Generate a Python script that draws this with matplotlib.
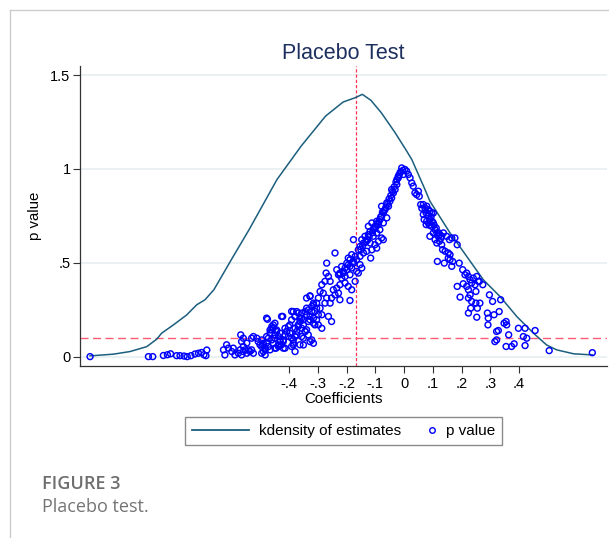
import matplotlib.pyplot as plt
from matplotlib.lines import Line2D
from matplotlib.legend_handler import HandlerLine2D

# --------------------------
# data
# --------------------------

# kernel density of the placebo estimates (sampled along the curve)
kd_coef = [-1.092, -1.011, -0.953, -0.895, -0.860, -0.843, -0.802, -0.756, -0.721,
           -0.692, -0.661, -0.600, -0.539, -0.442, -0.358, -0.273, -0.212, -0.170,
           -0.145, -0.115, -0.079, -0.032, 0.006, 0.027, 0.073, 0.090, 0.160, 0.218,
           0.276, 0.334, 0.392, 0.450, 0.496, 0.531, 0.590, 0.655]
kd_dens = [0.004, 0.013, 0.027, 0.053, 0.093, 0.125, 0.169, 0.222, 0.276,
           0.303, 0.357, 0.518, 0.676, 0.943, 1.121, 1.281, 1.356, 1.379,
           1.397, 1.365, 1.299, 1.195, 1.103, 1.050, 0.890, 0.828, 0.659, 0.534,
           0.409, 0.320, 0.214, 0.125, 0.062, 0.036, 0.015, 0.009]

# p values of the placebo coefficients
# left tail
pv_coef = [-1.092, -0.889, -0.874, -0.837, -0.823, -0.812, -0.791, -0.779, -0.765,
           -0.754, -0.741, -0.727, -0.715, -0.704, -0.696, -0.686, -0.689]
pv_val = [0.000, 0.000, 0.000, 0.006, 0.010, 0.015, 0.005, 0.005, 0.003,
          0.000, 0.005, 0.014, 0.018, 0.022, 0.010, 0.035, 0.005]

# lower left cluster
pv_coef += [-0.623, -0.628, -0.611, -0.617, -0.599, -0.588, -0.594, -0.576, -0.570,
            -0.565, -0.559, -0.553, -0.547, -0.541, -0.536, -0.530, -0.524, -0.559,
            -0.565, -0.568, -0.559, -0.547, -0.530, -0.524, -0.512, -0.507, -0.495,
            -0.492, -0.489, -0.483, -0.478, -0.472, -0.466, -0.460, -0.455, -0.449,
            -0.443, -0.437, -0.431, -0.426, -0.420, -0.414, -0.408, -0.402, -0.397,
            -0.391, -0.385, -0.379, -0.373, -0.368, -0.362, -0.356, -0.350, -0.344,
            -0.339, -0.333, -0.327, -0.321, -0.315, -0.310, -0.304, -0.298, -0.478,
            -0.426, -0.391, -0.379, -0.368, -0.356, -0.339, -0.339, -0.327, -0.315,
            -0.304, -0.460, -0.449, -0.437, -0.414, -0.391, -0.362, -0.350, -0.327,
            -0.501, -0.466, -0.445, -0.379]
pv_val += [0.009, 0.036, 0.045, 0.063, 0.027, 0.009, 0.045, 0.018, 0.036,
           0.009, 0.027, 0.036, 0.018, 0.036, 0.027, 0.036, 0.018, 0.054,
           0.080, 0.116, 0.098, 0.072, 0.098, 0.107, 0.098, 0.080, 0.089,
           0.063, 0.027, 0.045, 0.072, 0.098, 0.125, 0.143, 0.152, 0.178,
           0.134, 0.107, 0.080, 0.063, 0.089, 0.116, 0.134, 0.160, 0.125,
           0.098, 0.072, 0.107, 0.134, 0.160, 0.187, 0.205, 0.169, 0.134,
           0.143, 0.187, 0.214, 0.241, 0.205, 0.169, 0.196, 0.223, 0.205,
           0.214, 0.241, 0.214, 0.232, 0.232, 0.258, 0.312, 0.321, 0.285,
           0.258, 0.160, 0.116, 0.054, 0.045, 0.054, 0.063, 0.098, 0.080,
           0.063, 0.036, 0.045, 0.027]
pv_coef += [-0.475, -0.422, -0.455, -0.466, -0.443, -0.431, -0.414, -0.408, -0.402,
            -0.385, -0.373, -0.356, -0.350, -0.420, -0.431, -0.449, -0.460, -0.478,
            -0.489, -0.495, -0.483, -0.472, -0.449, -0.420, -0.385, -0.495, -0.483,
            -0.455, -0.437, -0.397, -0.379, -0.373, -0.385, -0.391, -0.379, -0.368,
            -0.356, -0.344, -0.333, -0.321, -0.315, -0.362, -0.350, -0.344, -0.339,
            -0.333, -0.327, -0.315, -0.298, -0.310, -0.321, -0.315, -0.304, -0.298,
            -0.327]
pv_val += [0.199, 0.214, 0.169, 0.142, 0.142, 0.125, 0.151, 0.134, 0.107,
           0.089, 0.116, 0.107, 0.062, 0.080, 0.089, 0.098, 0.089, 0.107,
           0.071, 0.053, 0.036, 0.053, 0.045, 0.045, 0.062, 0.018, 0.009,
           0.071, 0.062, 0.169, 0.151, 0.240, 0.240, 0.196, 0.214, 0.169,
           0.151, 0.134, 0.116, 0.089, 0.071, 0.205, 0.196, 0.240, 0.223,
           0.249, 0.196, 0.178, 0.169, 0.240, 0.267, 0.276, 0.285, 0.312,
           0.324]

# rising band below the threshold line
pv_coef += [-0.170, -0.205, -0.194, -0.182, -0.223, -0.234, -0.246, -0.240, -0.252,
            -0.228, -0.223, -0.269, -0.271, -0.263, -0.275, -0.257, -0.286, -0.292,
            -0.281, -0.269, -0.257, -0.275, -0.188, -0.286, -0.263, -0.252, -0.286,
            -0.292]
pv_val += [0.401, 0.392, 0.374, 0.356, 0.383, 0.365, 0.356, 0.329, 0.312,
           0.338, 0.303, 0.498, 0.445, 0.427, 0.401, 0.401, 0.383, 0.347,
           0.338, 0.312, 0.285, 0.285, 0.299, 0.223, 0.214, 0.187, 0.151,
           0.258]

# left flank of the peak
pv_coef += [-0.008, 0.003, 0.009, 0.015, 0.021, -0.014, -0.020, -0.025, -0.002,
            0.027, 0.032, -0.025, -0.031, -0.037, -0.043, -0.049, -0.054, -0.060,
            -0.066, -0.072, -0.078, -0.084, -0.072, -0.060, -0.089, -0.095, -0.101,
            -0.107, -0.112, -0.118, -0.124, -0.107, -0.095, -0.084, -0.130, -0.141,
            -0.136, -0.147, -0.153, -0.159, -0.118, -0.101, -0.089, -0.078, -0.072,
            -0.095, -0.112, -0.141, -0.130, -0.153, -0.165, -0.176, -0.170, -0.188,
            -0.194, -0.182, -0.199, -0.211, -0.217, -0.223, -0.234, -0.240, -0.176,
            -0.116, -0.147, -0.159, -0.188, -0.205,
            -0.182, -0.194, -0.176, -0.188, -0.205, -0.199, -0.211, -0.223, -0.228,
            -0.217, -0.153, -0.165,
            -0.004, -0.011, -0.017, -0.028, -0.034, -0.040, -0.046, -0.052, -0.057,
            -0.063, -0.069, -0.075, -0.081, -0.087, -0.092, -0.098, -0.104, -0.110,
            -0.121, -0.127, -0.133, -0.144, -0.150, -0.020, -0.043, -0.078, -0.124]
pv_val += [1.005, 0.997, 0.988, 0.970, 0.952, 0.979, 0.961, 0.943, 0.970,
           0.925, 0.908, 0.917, 0.890, 0.872, 0.845, 0.828, 0.801, 0.819,
           0.783, 0.765, 0.747, 0.730, 0.712, 0.739, 0.703, 0.721, 0.694,
           0.676, 0.712, 0.667, 0.650, 0.641, 0.658, 0.676, 0.623, 0.605,
           0.641, 0.623, 0.587, 0.569, 0.605, 0.596, 0.614, 0.632, 0.623,
           0.578, 0.569, 0.552, 0.561, 0.534, 0.516, 0.498, 0.534, 0.516,
           0.489, 0.472, 0.463, 0.445, 0.480, 0.436, 0.463, 0.552, 0.623,
           0.525, 0.472, 0.445, 0.436, 0.427,
           0.543, 0.525, 0.507, 0.481, 0.472, 0.498, 0.454, 0.445, 0.436,
           0.418, 0.490, 0.454,
           0.992, 0.985, 0.968, 0.930, 0.905, 0.880, 0.858, 0.840, 0.812,
           0.795, 0.778, 0.770, 0.745, 0.720, 0.710, 0.690, 0.680, 0.660,
           0.640, 0.620, 0.610, 0.590, 0.570, 0.952, 0.890, 0.801, 0.694]

# right flank
pv_coef += [0.038, 0.044, 0.050, 0.053, 0.058, 0.067, 0.073, 0.079, 0.085,
            0.090, 0.096, 0.102, 0.077, 0.067, 0.070, 0.079, 0.085, 0.090,
            0.102, 0.077, 0.096, 0.108, 0.102, 0.090, 0.114, 0.119, 0.125,
            0.131, 0.137, 0.148, 0.158, 0.166, 0.177, 0.185, 0.108, 0.114,
            0.123, 0.131, 0.134, 0.143, 0.154, 0.160, 0.154, 0.160, 0.169,
            0.166, 0.116, 0.140, 0.192, 0.204, 0.212, 0.218, 0.224, 0.230,
            0.241, 0.253, 0.258, 0.235, 0.247, 0.262, 0.274, 0.206, 0.185,
            0.218, 0.224, 0.250, 0.230, 0.224, 0.195, 0.235, 0.250, 0.264,
            0.232, 0.255, 0.297, 0.308, 0.336, 0.224, 0.253, 0.290, 0.313,
            0.331, 0.293, 0.292, 0.348, 0.355, 0.357, 0.398, 0.421, 0.456,
            0.322, 0.328, 0.364, 0.316, 0.322, 0.415, 0.427, 0.355, 0.374,
            0.383, 0.421, 0.505, 0.655,
            0.062, 0.083, 0.094, 0.105, 0.112, 0.120, 0.128, 0.088, 0.074, 0.098]
pv_val += [0.872, 0.863, 0.881, 0.854, 0.810, 0.810, 0.792, 0.801, 0.783,
           0.774, 0.765, 0.765, 0.765, 0.757, 0.730, 0.721, 0.712, 0.730,
           0.712, 0.703, 0.694, 0.676, 0.659, 0.641, 0.659, 0.641, 0.650,
           0.641, 0.659, 0.641, 0.623, 0.632, 0.632, 0.596, 0.623, 0.605,
           0.614, 0.596, 0.570, 0.561, 0.552, 0.543, 0.525, 0.516, 0.507,
           0.481, 0.507, 0.498, 0.498, 0.463, 0.436, 0.445, 0.427, 0.409,
           0.418, 0.427, 0.401, 0.392, 0.383, 0.401, 0.383, 0.388, 0.374,
           0.374, 0.356, 0.347, 0.329, 0.312, 0.317, 0.294, 0.285, 0.285,
           0.258, 0.258, 0.329, 0.294, 0.303, 0.232, 0.210, 0.232, 0.223,
           0.240, 0.205, 0.169, 0.178, 0.187, 0.169, 0.151, 0.151, 0.139,
           0.134, 0.139, 0.116, 0.080, 0.089, 0.107, 0.098, 0.054, 0.054,
           0.068, 0.059, 0.032, 0.021,
           0.790, 0.750, 0.745, 0.700, 0.685, 0.660, 0.630, 0.700, 0.780, 0.720]

true_coef = -0.168  # actual estimate (vertical reference)
p_cut = 0.1         # significance threshold

xticks = [-0.4, -0.3, -0.2, -0.1, 0, 0.1, 0.2, 0.3, 0.4]
xtick_labels = ["-.4", "-.3", "-.2", "-.1", "0", ".1", ".2", ".3", ".4"]
yticks = [0, 0.5, 1, 1.5]
ytick_labels = ["0", ".5", "1", "1.5"]

# --------------------------
# plot
# --------------------------
plt.rcParams["font.family"] = ["Liberation Sans", "DejaVu Sans"]

kd_color = "#1b5e7e"
dot_color = "#0000ff"

fig = plt.figure(figsize=(6.09, 5.38), dpi=100)
ax = fig.add_axes([80 / 609, 1 - 366 / 538, 527 / 609, 300 / 538])

for y in yticks:
    ax.axhline(y, color="#e3edf0", lw=1.1, zorder=0)

ax.axvline(true_coef, color="#ff3355", lw=0.9, dashes=(2.6, 1.6), zorder=1)
ax.axhline(p_cut, color="#ff5c73", lw=1.0, dashes=(5.8, 3.2), zorder=1)

ax.plot(kd_coef, kd_dens, color=kd_color, lw=1.1, zorder=2)
ax.scatter(pv_coef, pv_val, s=18, facecolors="none", edgecolors=dot_color,
           linewidths=1.05, zorder=3)

ax.set_xlim(-1.127, 0.706)
ax.set_ylim(-0.050, 1.548)
ax.set_xticks(xticks)
ax.set_xticklabels(xtick_labels)
ax.set_yticks(yticks)
ax.set_yticklabels(ytick_labels)
ax.tick_params(axis="both", labelsize=10.5, color="#333333", width=0.8)
ax.tick_params(axis="y", length=4.8, pad=2)
ax.tick_params(axis="x", length=4.8, pad=3)

for side in ["top", "right"]:
    ax.spines[side].set_visible(False)
for side in ["left", "bottom"]:
    ax.spines[side].set_color("#333333")
    ax.spines[side].set_linewidth(0.9)

ax.set_xlabel("Coefficients", fontsize=10.8, labelpad=1)
ax.set_ylabel("p value", fontsize=10.8)
ax.yaxis.set_label_coords(-0.072, 0.5)
ax.set_title("Placebo Test", fontsize=15.5, color="#1c2f5e", pad=5.3)

# legend below the plot
h_line = Line2D([], [], color=kd_color, lw=1.3)
h_dot = Line2D([], [], ls="none", marker="o", ms=4, mfc="none", mec=dot_color, mew=1.0)
leg = fig.legend([h_line, h_dot], ["kdensity of estimates", "p value"],
                 handler_map={h_dot: HandlerLine2D(numpoints=1, xpad=3.2)},
                 ncol=2, loc="center", bbox_to_anchor=(343.5 / 609, 1 - 431 / 538),
                 fontsize=11, handlelength=3.73, handletextpad=0.65,
                 columnspacing=-1.44, borderpad=0.45, fancybox=False,
                 edgecolor="#8a8a8a", framealpha=1)
leg.get_frame().set_linewidth(1.0)

# page border and caption
fig.add_artist(Line2D([9.5 / 609, 9.5 / 609], [0, 1 - 9.5 / 538], color="#cccccc", lw=1))
fig.add_artist(Line2D([9.5 / 609, 1], [1 - 9.5 / 538, 1 - 9.5 / 538], color="#cccccc", lw=1))
fig.text(41.7 / 609, 1 - 489 / 538, "FIGURE 3", fontsize=13, fontweight="semibold",
         color="#6e6e6e", family=["Open Sans", "DejaVu Sans"])
fig.text(41.7 / 609, 1 - 512 / 538, "Placebo test.", fontsize=13,
         color="#747474", family=["Open Sans", "DejaVu Sans"])

fig.savefig("out.png", dpi=100)
